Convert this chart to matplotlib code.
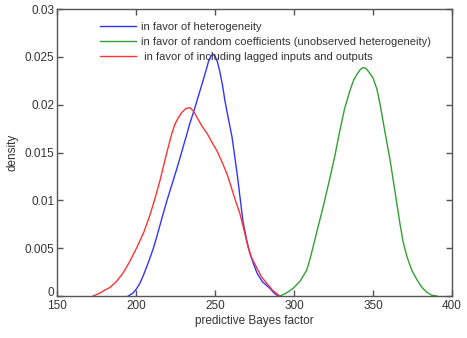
import matplotlib
matplotlib.use("Agg")
import matplotlib.pyplot as plt

plt.rcParams['font.family'] = ['Liberation Sans', 'DejaVu Sans']

# Blue: in favor of heterogeneity
blue_x = [195.0, 198.0, 200.5, 202.5, 205.0, 208.0, 211.0, 213.3, 216.5, 219.6,
          223.0, 226.0, 231.0, 234.0, 237.3, 240.0, 242.4, 244.5, 246.0, 247.5,
          248.7, 250.0, 251.5, 253.0, 254.8, 256.3, 258.5, 260.8, 264.0, 266.0,
          267.7, 270.0, 272.0, 274.5, 276.6, 280.0, 284.8, 287.5, 290.0]
blue_y = [0.0, 0.0003, 0.0008, 0.00135, 0.0023, 0.0036, 0.0050, 0.0063, 0.0082, 0.0100,
          0.0118, 0.0134, 0.01625, 0.0180, 0.0197, 0.0212, 0.0225, 0.0237, 0.0246, 0.0251,
          0.0253, 0.0251, 0.0245, 0.0235, 0.0220, 0.0204, 0.0185, 0.0166, 0.0128, 0.0101,
          0.0078, 0.0059, 0.0045, 0.0033, 0.0024, 0.0015, 0.0008, 0.0003, 0.0]

# Green: in favor of random coefficients (unobserved heterogeneity)
green_x = [291.0, 295.0, 299.4, 304.0, 308.0, 310.0, 312.0, 315.0, 318.4, 320.5,
           322.8, 326.0, 329.0, 332.0, 335.4, 337.8, 339.9, 342.0, 343.7, 345.5,
           347.5, 350.0, 352.5, 354.4, 357.5, 360.8, 364.0, 367.0, 369.0, 371.5,
           374.5, 377.8, 381.0, 384.0, 387.0, 390.5]
green_y = [0.0, 0.0003, 0.0008, 0.0016, 0.0027, 0.0038, 0.0051, 0.0071, 0.0093, 0.0108,
           0.0124, 0.0148, 0.0173, 0.0196, 0.0215, 0.0226, 0.0232, 0.0237, 0.0239, 0.0238,
           0.0234, 0.0228, 0.0216, 0.0201, 0.0172, 0.0142, 0.0108, 0.0076, 0.0057, 0.0041,
           0.0027, 0.0017, 0.0009, 0.0004, 0.0001, 0.0]

# Red: in favor of including lagged inputs and outputs
red_x = [172.8, 177.0, 180.0, 183.5, 187.5, 191.8, 196.0, 200.6, 205.0, 208.9,
         212.0, 215.2, 218.0, 220.3, 222.5, 224.7, 227.0, 229.0, 231.5, 234.2,
         236.5, 239.2, 242.0, 245.0, 248.0, 251.5, 255.0, 257.5, 259.5, 262.5,
         265.8, 268.5, 270.9, 273.5, 276.6, 279.5, 282.9, 286.5, 291.0]
red_y = [0.0, 0.0003, 0.0006, 0.0009, 0.0015, 0.0024, 0.0036, 0.0051, 0.0067, 0.0085,
         0.0102, 0.0121, 0.0140, 0.0155, 0.0169, 0.0180, 0.0187, 0.0192, 0.0196, 0.0197,
         0.0193, 0.0185, 0.0177, 0.0170, 0.0161, 0.0151, 0.0138, 0.0128, 0.0118, 0.0102,
         0.0086, 0.0068, 0.0051, 0.0039, 0.0029, 0.0020, 0.0013, 0.0006, 0.0]

labels = ["in favor of heterogeneity",
          "in favor of random coefficients (unobserved heterogeneity)",
          " in favor of including lagged inputs and outputs"]

xticks = [150, 200, 250, 300, 350, 400]
yticks = [0, 0.005, 0.01, 0.015, 0.02, 0.025, 0.03]
ytick_labels = ["0", "0.005", "0.01", "0.015", "0.02", "0.025", "0.03"]

fig = plt.figure(figsize=(4.67, 3.38), dpi=100)
ax = fig.add_axes([0.122, 0.124, 0.846, 0.849])

ax.plot(blue_x, blue_y, color='#3333ff', lw=1.0, label=labels[0])
ax.plot(green_x, green_y, color='#33a033', lw=1.0, label=labels[1])
ax.plot(red_x, red_y, color='#ff3333', lw=1.0, label=labels[2])

ax.set_xlim(150, 400)
ax.set_ylim(0, 0.03)
ax.set_xticks(xticks)
ax.set_xticklabels([str(t) for t in xticks])
ax.set_yticks(yticks)
ax.set_yticklabels(ytick_labels)

axcol = '#555555'
for s in ax.spines.values():
    s.set_color(axcol)
    s.set_linewidth(1.0)
ax.tick_params(direction='in', top=True, right=True, length=4, width=1,
               color=axcol, labelsize=8.5, labelcolor='#333333', pad=2)
ax.tick_params(axis='x', pad=3)
# the "0" tick label sits just above the axis corner, as in the reference
ax.get_yticklabels()[0].set_verticalalignment('baseline')

ax.set_xlabel("predictive Bayes factor", fontsize=8.5, color='#333333', labelpad=2)
ax.set_ylabel("density", fontsize=8.5, color='#333333', labelpad=4)

leg = ax.legend(loc='upper left', bbox_to_anchor=(0.109, 0.956), frameon=False,
                fontsize=8, handlelength=3.25, handletextpad=0.45,
                labelspacing=0.47, borderaxespad=0.0, borderpad=0.0)
for t in leg.get_texts():
    t.set_color('#333333')

fig.savefig("out.png", dpi=100)
